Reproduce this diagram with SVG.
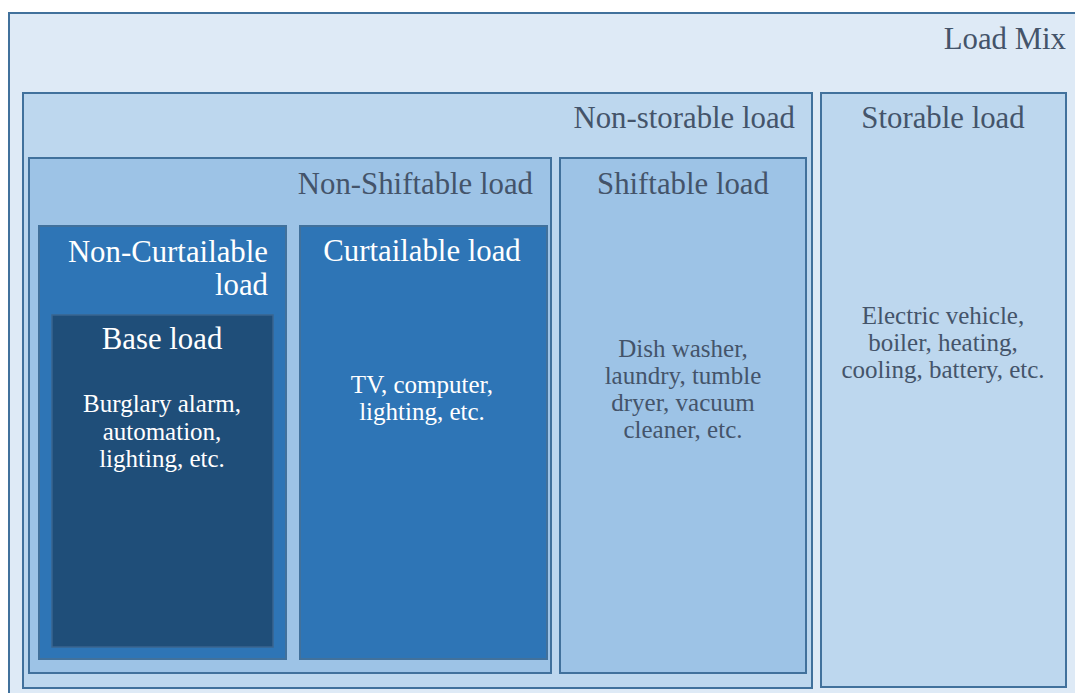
<svg xmlns="http://www.w3.org/2000/svg" width="1075" height="693" viewBox="0 0 1075 693">
<style>
.box{stroke:#41719C;stroke-width:2}
.t{font-family:"Liberation Serif","Times New Roman",serif;font-size:30.8px;fill:#44546A}
.b{font-family:"Liberation Serif","Times New Roman",serif;font-size:25px;fill:#44546A}
.w{fill:#FFFFFF}
.r{text-anchor:end}
.c{text-anchor:middle}
</style>
<rect width="1075" height="693" fill="#FFFFFF"/>
<g id="load-mix">
<rect class="box" x="9" y="13" width="1080" height="700" fill="#DEEAF6"/>
<text class="t r" x="1066" y="49">Load Mix</text>
</g>
<g id="non-storable">
<rect class="box" x="23" y="93" width="789" height="595" fill="#BDD7EE"/>
<text class="t r" x="795" y="128">Non-storable load</text>
</g>
<g id="storable">
<rect class="box" x="821" y="93" width="245" height="594" fill="#BDD7EE"/>
<text class="t c" x="943" y="128">Storable load</text>
<text class="b c" x="943" y="324">Electric vehicle,</text>
<text class="b c" x="943" y="351">boiler, heating,</text>
<text class="b c" x="943" y="378">cooling, battery, etc.</text>
</g>
<g id="non-shiftable">
<rect class="box" x="29" y="158" width="522" height="515" fill="#9DC3E6"/>
<text class="t r" x="533" y="194">Non-Shiftable load</text>
</g>
<g id="shiftable">
<rect class="box" x="560" y="158" width="246" height="515" fill="#9DC3E6"/>
<text class="t c" x="683" y="194">Shiftable load</text>
<text class="b c" x="683" y="357">Dish washer,</text>
<text class="b c" x="683" y="384">laundry, tumble</text>
<text class="b c" x="683" y="411">dryer, vacuum</text>
<text class="b c" x="683" y="438">cleaner, etc.</text>
</g>
<g id="non-curtailable">
<rect class="box" x="39" y="226" width="247" height="433" fill="#2E75B6" stroke="#3E6A96"/>
<text class="t r w" x="268" y="262">Non-Curtailable</text>
<text class="t r w" x="268" y="295">load</text>
</g>
<g id="curtailable">
<rect class="box" x="300" y="226" width="247" height="433" fill="#2E75B6" stroke="#3E6A96"/>
<text class="t c w" x="422" y="261">Curtailable load</text>
<text class="b c w" x="422" y="393">TV, computer,</text>
<text class="b c w" x="422" y="420">lighting, etc.</text>
</g>
<g id="base-load">
<rect x="52" y="315" width="221" height="332" fill="#1F4E79" stroke="#3A6590" stroke-width="1.5"/>
<text class="t c w" x="162" y="349">Base load</text>
<text class="b c w" x="162" y="412">Burglary alarm,</text>
<text class="b c w" x="162" y="440">automation,</text>
<text class="b c w" x="162" y="467">lighting, etc.</text>
</g>
<g id="connectors"/>
</svg>
